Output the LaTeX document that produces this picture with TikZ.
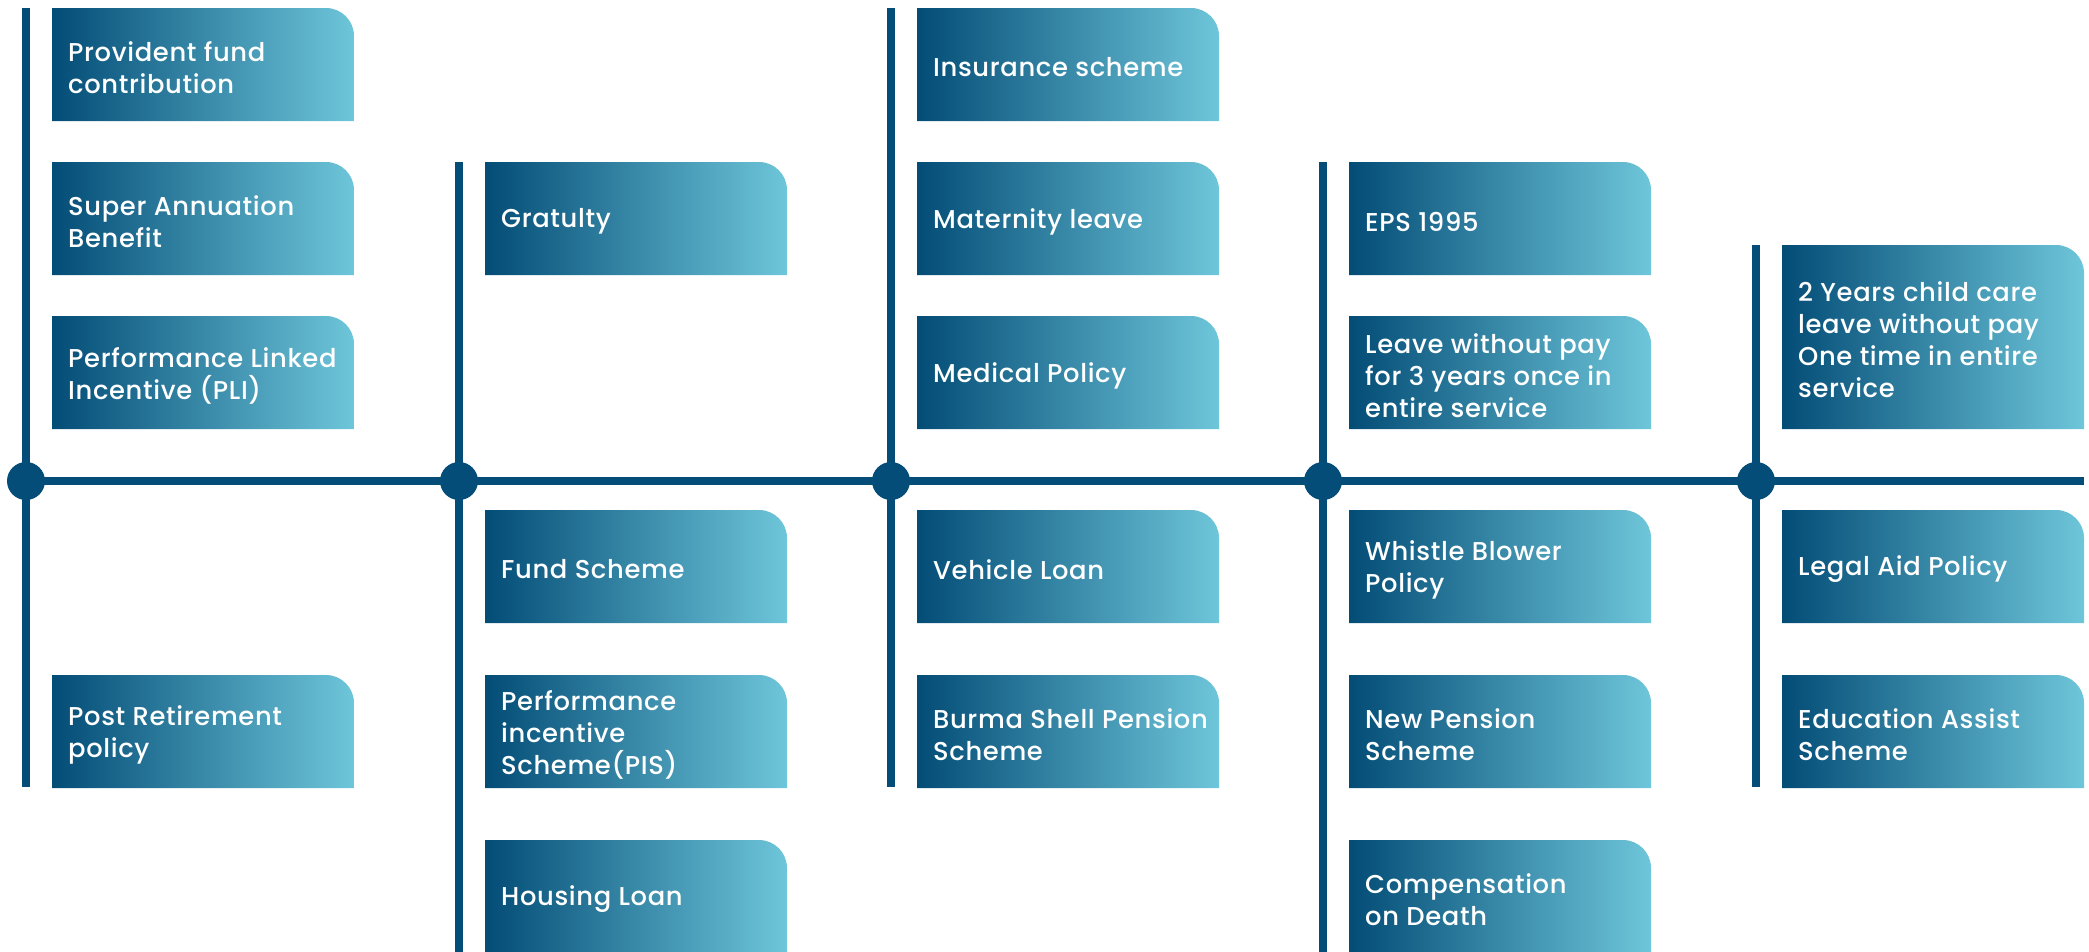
\documentclass[tikz,border=0pt]{standalone}
\usepackage{fontspec}
\setmainfont{Poppins Medium}[LetterSpace=2.5]
\definecolor{lineblue}{RGB}{4,77,120}
\definecolor{gdark}{RGB}{3,76,118}
\definecolor{glight}{RGB}{110,198,218}
\tikzset{
  spine/.style={line width=8pt, draw=lineblue},
  dot/.style={circle, fill=lineblue, minimum size=38pt, inner sep=0pt},
  boxshade/.style={left color=gdark, right color=glight},
  boxtext/.style={text=white, anchor=west, align=left, inner sep=0pt, font=\fontsize{25.8}{32}\selectfont},
}
\newcommand\benbox[5]{%
  \shade[boxshade] (#2,#3+#4) -- (#2,#3) [rounded corners=28pt] -- (#2+302,#3) [sharp corners] -- (#2+302,#3+#4) -- cycle;
  \node[boxtext] (#1) at (#2+16,#3+#4/2+3) {#5};
}
\begin{document}
\begin{tikzpicture}[x=1pt,y=-1pt]
\useasboundingbox (0,0) rectangle (2089,951);
\clip (0,0) rectangle (2089,951);
% spine coordinates
\coordinate (t1) at (26,8);    \coordinate (b1) at (26,787);
\coordinate (t2) at (459,162); \coordinate (b2) at (459,955);
\coordinate (t3) at (891,8);   \coordinate (b3) at (891,787);
\coordinate (t4) at (1323,162);\coordinate (b4) at (1323,955);
\coordinate (t5) at (1756,245);\coordinate (b5) at (1756,787);
\coordinate (h0) at (26,481);  \coordinate (hend) at (2084,481);
\draw[spine] (t1) -- (b1);
\draw[spine] (t2) -- (b2);
\draw[spine] (t3) -- (b3);
\draw[spine] (t4) -- (b4);
\draw[spine] (t5) -- (b5);
\draw[spine] (h0) -- (hend);
\node[dot] (d1) at (26,481) {};
\node[dot] (d2) at (459,481) {};
\node[dot] (d3) at (891,481) {};
\node[dot] (d4) at (1323,481) {};
\node[dot] (d5) at (1756,481) {};
% column 1
\benbox{pf}{52}{8}{113}{Provident fund\\contribution}
\benbox{sab}{52}{162}{113}{Super Annuation\\Benefit}
\benbox{pli}{52}{316}{113}{Performance Linked\\Incentive (PLI)}
\benbox{prp}{52}{675}{113}{Post Retirement\\policy}
% column 2
\benbox{gra}{485}{162}{113}{Gratulty}
\benbox{fund}{485}{510}{113}{Fund Scheme}
\benbox{pis}{485}{675}{113}{Performance\\incentive\\Scheme(PIS)}
\benbox{house}{485}{840}{113}{Housing Loan}
% column 3
\benbox{ins}{917}{8}{113}{Insurance scheme}
\benbox{mat}{917}{162}{113}{Maternity leave}
\benbox{med}{917}{316}{113}{Medical Policy}
\benbox{veh}{917}{510}{113}{Vehicle Loan}
\benbox{bsp}{917}{675}{113}{Burma Shell Pension\\Scheme}
% column 4
\benbox{eps}{1349}{162}{113}{EPS 1995}
\benbox{lwp}{1349}{316}{113}{Leave without pay\\for 3 years once in\\entire service}
\benbox{wbp}{1349}{510}{113}{Whistle Blower\\Policy}
\benbox{nps}{1349}{675}{113}{New Pension\\Scheme}
\benbox{cod}{1349}{840}{113}{Compensation\\on Death}
% column 5
\benbox{ccl}{1782}{245}{184}{2 Years child care\\leave without pay\\One time in entire\\service}
\benbox{lap}{1782}{510}{113}{Legal Aid Policy}
\benbox{eas}{1782}{675}{113}{Education Assist\\Scheme}
\end{tikzpicture}
\end{document}
